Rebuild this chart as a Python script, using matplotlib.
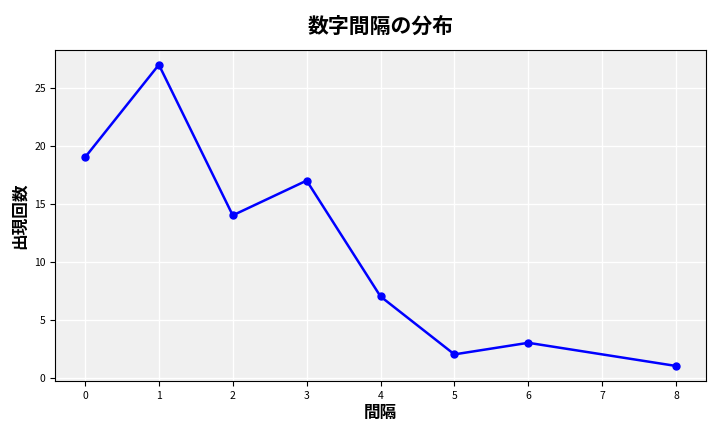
import matplotlib
matplotlib.use("Agg")
import matplotlib.pyplot as plt

plt.rcParams['font.family'] = ['Noto Sans CJK JP', 'DejaVu Sans']

gaps = [0, 1, 2, 3, 4, 5, 6, 8]
counts = [19, 27, 14, 17, 7, 2, 3, 1]

fig, ax = plt.subplots(figsize=(7.2, 4.32), dpi=100)
ax.set_facecolor('#f0f0f0')
ax.plot(gaps, counts, color='blue', marker='o', markersize=5, linewidth=1.8)
ax.grid(True, color='white', linewidth=1)
ax.set_axisbelow(True)
ax.set_xticks(range(0, 9))
ax.tick_params(labelsize=7.5)
ax.set_title('数字間隔の分布', fontsize=15, fontweight='bold', pad=12)
ax.set_xlabel('間隔', fontsize=12, fontweight='bold', labelpad=2)
ax.set_ylabel('出現回数', fontsize=12, fontweight='bold')
fig.subplots_adjust(left=0.077, right=0.98, top=0.885, bottom=0.118)
fig.savefig('out.png')
